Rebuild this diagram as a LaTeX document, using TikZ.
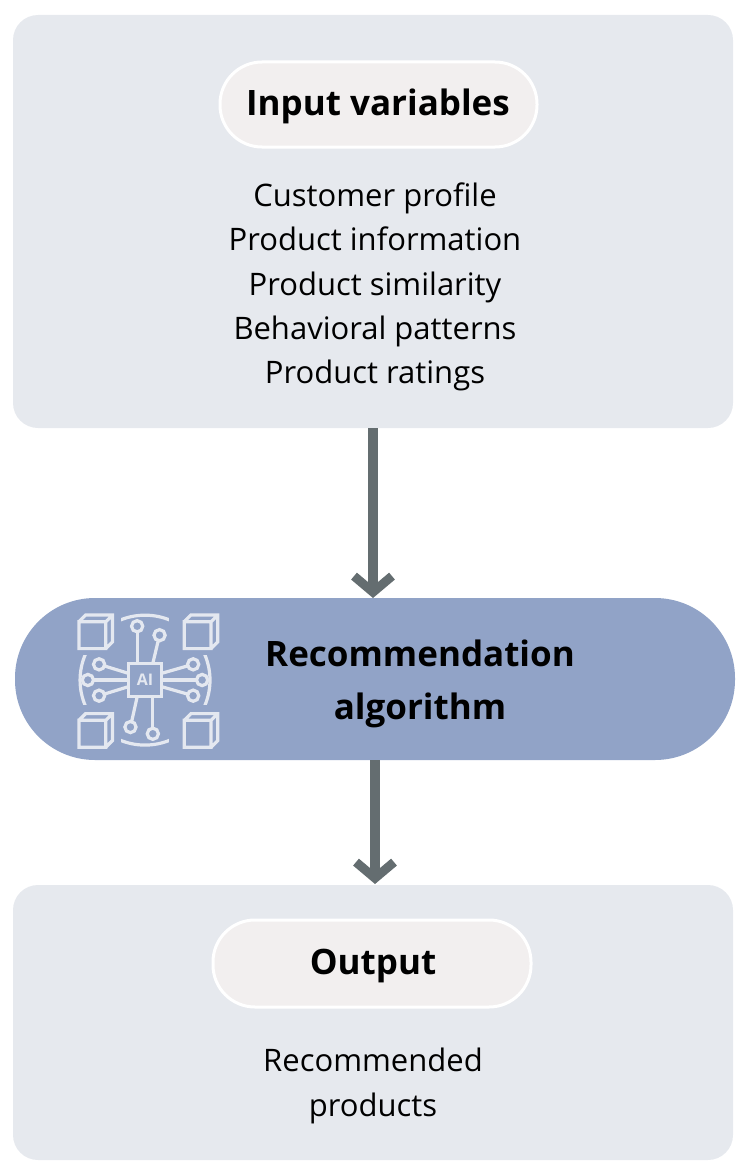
\documentclass[tikz,border=0pt]{standalone}
\usepackage{fontspec}
\setmainfont{Open Sans}
\definecolor{panel}{HTML}{E6E9EE}
\definecolor{pillbg}{HTML}{F2EFEF}
\definecolor{algo}{HTML}{91A3C7}
\definecolor{arrowgray}{HTML}{646D70}
\definecolor{iconline}{HTML}{E4E8F0}
\usetikzlibrary{arrows.meta}
\tikzset{
  panel/.style={fill=panel, draw=none, rounded corners=12.5pt},
  pill/.style={fill=pillbg, draw=white, line width=1.5pt, rounded corners=21pt},
  head/.style={font=\bfseries\fontsize{17.5}{20}\selectfont},
  body/.style={font=\fontsize{15.5}{22.2}\selectfont, align=center},
  flow/.style={draw=arrowgray, line width=5pt, -{Straight Barb[length=8pt,width=19pt,line width=4.5pt]}},
  icon/.style={draw=iconline, line width=1.6pt}
}
\begin{document}
\begin{tikzpicture}[x=0.5pt,y=-0.5pt]
		\useasboundingbox (0,0) rectangle (744,1172);
		% Panels
		\draw[panel] (13,15) rectangle (733,428);
		\draw[panel] (13,885) rectangle (733,1160);
		\draw[fill=algo, draw=none, rounded corners=40pt] (15,598) rectangle (735,760);
		
		% Top panel
		\draw[pill] (220,62) rectangle (537,147);
		\node[head] (inputs) at (378,106) {Input variables};
		\node[body] (inlist) at (375,287) {Customer profile\\Product information\\Product similarity\\Behavioral patterns\\Product ratings};
		
		% Algorithm
		\node[head, align=center, font=\bfseries\fontsize{17.5}{26.5}\selectfont] (algo) at (420,684) {Recommendation\\algorithm};
		
		% Bottom panel
		\draw[pill] (213,920) rectangle (531,1007);
		\node[head] (output) at (373,966) {Output};
		\node[body] (outlist) at (373,1086) {Recommended\\products};
		
		% Arrows
		\coordinate (a1) at (373,428);
		\coordinate (a2) at (373,598);
		\coordinate (b1) at (375,760);
		\coordinate (b2) at (375,884);
		\draw[flow] (a1) -- (a2);
		\draw[flow] (b1) -- (b2);
		
		% Icon
		\begin{scope}[shift={(145,680)}, scale=1.12, shift={(-145,-680)}]
		\coordinate (ic) at (145,680);
		\draw[icon] (ic) circle (29pt);
		\fill[algo] (82,618) rectangle (124,658);
		\fill[algo] (166,618) rectangle (208,658);
		\fill[algo] (82,702) rectangle (124,744);
		\fill[algo] (166,702) rectangle (208,744);
		\foreach \cx/\cy in {86/628, 180/628, 86/716, 180/716}
			\draw[icon] (\cx,\cy) rectangle ++(24,24) (\cx,\cy) -- ++(6,-6) -- ++(24,0) -- ++(0,24) -- ++(-6,6) (\cx+24,\cy) -- ++(6,-6);
		\draw[icon] (130,665) rectangle (160,695);
		\node[text=iconline, font=\bfseries\fontsize{8}{8}\selectfont] (ai) at (ic) {AI};
		\foreach \sx/\sy/\ex/\ey in {138/665/138/632, 152/665/158/640, 130/674/104/666, 130/686/104/694, 160/674/188/666, 160/686/188/694, 138/695/132/722, 152/695/152/728, 130/680/94/680, 160/680/196/680}
			{\draw[icon] (\sx,\sy) -- (\ex,\ey);
			 \draw[icon, fill=algo] (\ex,\ey) circle (2.5pt);}
		\end{scope}
	\end{tikzpicture}
\end{document}
